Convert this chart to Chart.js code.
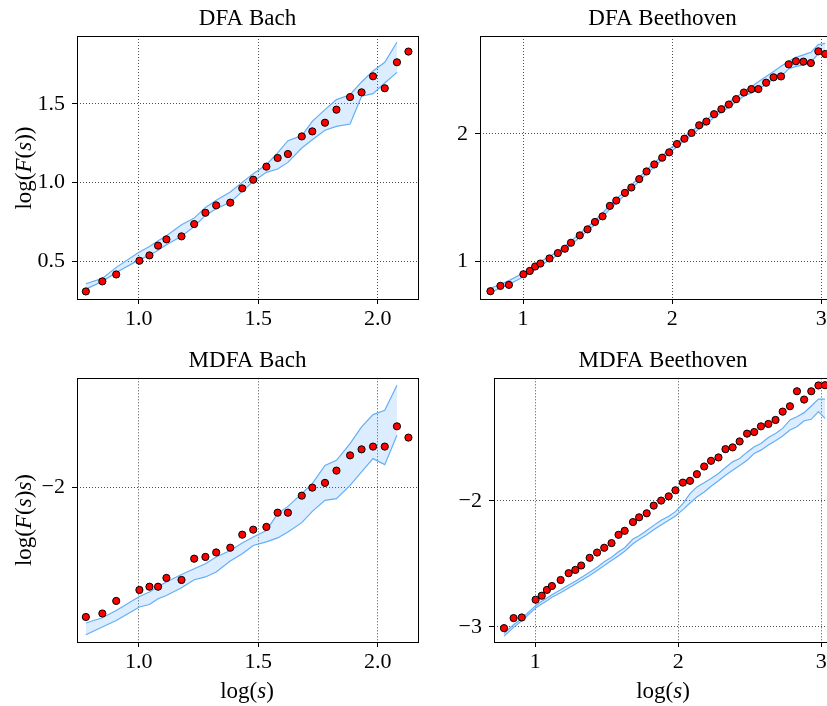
<!DOCTYPE html>
<html>
<head>
<meta charset="utf-8">
<script src="https://cdn.jsdelivr.net/npm/chart.js@4.4.1/dist/chart.umd.min.js"></script>
<style>
html,body{margin:0;padding:0;background:#fff;}
body{width:827px;height:706px;overflow:hidden;position:relative;font-family:"Liberation Serif",serif;}
canvas{position:absolute;}
.lab{position:absolute;font-size:23px;white-space:nowrap;color:#000;transform:translate(-50%,-50%);line-height:1;}
.rot{transform:translate(-50%,-50%) rotate(-90deg);}
</style>
</head>
<body>
<canvas id="c1" width="440" height="340" style="left:0;top:0"></canvas>
<canvas id="c2" width="440" height="340" style="left:420px;top:0"></canvas>
<canvas id="c3" width="440" height="361" style="left:0;top:345px"></canvas>
<canvas id="c4" width="440" height="361" style="left:420px;top:345px"></canvas>
<div class="lab rot" style="left:23px;top:168px">log(<i>F</i>(<i>s</i>))</div>
<div class="lab rot" style="left:23px;top:520px">log(<i>F</i>(<i>s</i>)<i>s</i>)</div>
<div class="lab" style="left:247px;top:690px">log(<i>s</i>)</div>
<div class="lab" style="left:663px;top:690px">log(<i>s</i>)</div>
<script>
// log(s) 取值
const bachX = [0.779,0.848,0.906,1.003,1.045,1.081,1.116,1.179,1.232,1.279,1.324,1.383,1.433,1.479,1.534,1.581,1.624,1.682,1.726,1.779,1.827,1.884,1.932,1.980,2.029,2.080,2.128];
const beethovenX = [0.781,0.848,0.905,1.002,1.045,1.081,1.116,1.177,1.233,1.280,1.321,1.380,1.432,1.482,1.533,1.582,1.625,1.683,1.726,1.779,1.828,1.880,1.933,1.980,2.032,2.082,2.130,2.181,2.229,2.281,2.330,2.380,2.429,2.481,2.531,2.578,2.630,2.680,2.730,2.781,2.830,2.880,2.930,2.980,3.026];

// DFA Bach
const dfaBach = [0.309,0.373,0.417,0.504,0.538,0.600,0.640,0.659,0.737,0.809,0.856,0.873,0.964,1.019,1.102,1.157,1.182,1.294,1.326,1.381,1.464,1.544,1.574,1.676,1.600,1.765,1.833];
const dfaBachHi = [0.358,0.392,0.462,0.559,0.595,0.631,0.663,0.733,0.775,0.843,0.888,0.941,1.002,1.057,1.114,1.189,1.267,1.299,1.390,1.464,1.528,1.559,1.640,1.710,1.765,1.892];
const dfaBachLo = [0.324,0.373,0.430,0.511,0.538,0.570,0.606,0.659,0.722,0.792,0.835,0.875,0.945,1.008,1.066,1.087,1.129,1.220,1.273,1.333,1.358,1.373,1.549,1.566,1.633,1.701];

// DFA Beethoven
const dfaBeethoven = [0.767,0.809,0.817,0.900,0.926,0.961,0.984,1.024,1.066,1.100,1.147,1.205,1.252,1.310,1.354,1.436,1.478,1.538,1.580,1.646,1.706,1.761,1.814,1.856,1.921,1.963,2.008,2.068,2.097,2.155,2.194,2.231,2.273,2.325,2.352,2.352,2.402,2.444,2.451,2.546,2.570,2.567,2.556,2.648,2.627];
const dfaBeethovenHi = [0.79,0.82,0.85,0.91,0.94,0.97,1.00,1.04,1.08,1.12,1.16,1.22,1.27,1.32,1.38,1.44,1.49,1.55,1.60,1.66,1.72,1.77,1.83,1.88,1.93,1.98,2.02,2.07,2.11,2.16,2.20,2.25,2.29,2.33,2.37,2.41,2.45,2.49,2.53,2.57,2.60,2.62,2.64,2.70,2.71];
const dfaBeethovenLo = [0.76,0.79,0.82,0.88,0.91,0.94,0.97,1.01,1.05,1.09,1.13,1.19,1.24,1.29,1.35,1.41,1.46,1.52,1.57,1.63,1.69,1.74,1.80,1.85,1.90,1.95,1.99,2.04,2.08,2.13,2.17,2.21,2.25,2.30,2.32,2.35,2.39,2.43,2.45,2.51,2.53,2.54,2.56,2.63,2.64];

// MDFA Bach
const mdfaBach = [-2.517,-2.503,-2.453,-2.409,-2.396,-2.396,-2.361,-2.369,-2.284,-2.277,-2.259,-2.240,-2.188,-2.168,-2.157,-2.100,-2.100,-2.032,-2.000,-1.981,-1.932,-1.871,-1.847,-1.836,-1.836,-1.755,-1.800];
const mdfaBachHi = [-2.541,-2.520,-2.491,-2.435,-2.417,-2.395,-2.377,-2.347,-2.324,-2.304,-2.277,-2.251,-2.221,-2.197,-2.171,-2.104,-2.075,-2.024,-1.984,-1.911,-1.891,-1.824,-1.757,-1.708,-1.691,-1.591];
const mdfaBachLo = [-2.588,-2.557,-2.531,-2.477,-2.467,-2.444,-2.431,-2.400,-2.368,-2.357,-2.337,-2.293,-2.264,-2.231,-2.217,-2.201,-2.177,-2.140,-2.095,-2.051,-2.044,-1.991,-1.937,-1.884,-1.908,-1.791];

// MDFA Beethoven
const mdfaBeethoven = [-3.011,-2.931,-2.926,-2.785,-2.753,-2.707,-2.676,-2.628,-2.574,-2.548,-2.513,-2.452,-2.410,-2.372,-2.335,-2.269,-2.237,-2.168,-2.130,-2.098,-2.037,-1.997,-1.963,-1.915,-1.854,-1.840,-1.787,-1.726,-1.681,-1.654,-1.588,-1.574,-1.527,-1.465,-1.452,-1.407,-1.388,-1.356,-1.290,-1.247,-1.128,-1.194,-1.128,-1.082,-1.080];
const mdfaBeethovenHi = [-3.053,-2.984,-2.934,-2.832,-2.798,-2.771,-2.745,-2.705,-2.668,-2.638,-2.609,-2.566,-2.527,-2.484,-2.447,-2.404,-2.372,-2.303,-2.277,-2.234,-2.194,-2.154,-2.122,-2.085,-2.021,-1.941,-1.888,-1.856,-1.822,-1.782,-1.734,-1.689,-1.662,-1.612,-1.569,-1.543,-1.495,-1.463,-1.423,-1.356,-1.330,-1.298,-1.245,-1.191,-1.191];
const mdfaBeethovenLo = [-3.074,-3.005,-2.952,-2.851,-2.819,-2.793,-2.766,-2.729,-2.691,-2.660,-2.633,-2.593,-2.553,-2.513,-2.473,-2.436,-2.399,-2.340,-2.306,-2.269,-2.229,-2.191,-2.154,-2.120,-2.069,-2.016,-1.968,-1.928,-1.883,-1.840,-1.795,-1.755,-1.718,-1.676,-1.622,-1.596,-1.556,-1.521,-1.484,-1.436,-1.410,-1.362,-1.351,-1.290,-1.343];

// 刻度
const bachXTicks = [1.0, 1.5, 2.0];
const beethovenXTicks = [1, 2, 3];
const dfaBachYTicks = [0.5, 1.0, 1.5];
const dfaBeethovenYTicks = [1, 2];
const mdfaBachYTicks = [-2];
const mdfaBeethovenYTicks = [-3, -2];

const FONT = '"Liberation Serif", "Times New Roman", serif';
const LINE = '#64aef6';
const FILL = 'rgba(30,144,255,0.16)';

const fmt = d => v => (v < 0 ? '\u2212' : '') + Math.abs(v).toFixed(d);
const pts = (xs, ys) => ys.map((y, i) => ({x: xs[i], y}));

const frame = {
  id: 'frame',
  afterDraw(chart) {
    const {ctx, chartArea: a} = chart;
    ctx.save();
    ctx.strokeStyle = '#000';
    ctx.lineWidth = 1;
    ctx.strokeRect(Math.round(a.left) + 0.5, Math.round(a.top) + 0.5, Math.round(a.right - a.left), Math.round(a.bottom - a.top));
    ctx.restore();
  }
};

function axis(ticks, format, min, max, size, isX) {
  return {
    type: 'linear', min, max,
    afterBuildTicks: s => { s.ticks = ticks.map(v => ({value: v})); },
    afterFit: s => { if (isX) s.height = size; else s.width = size; },
    ticks: { callback: format, color: '#000', font: {family: FONT, size: 22}, padding: isX ? 2 : 7, maxRotation: 0, autoSkip: false },
    grid: { color: '#222', lineWidth: 0.8, tickLength: 5, tickColor: '#000', tickWidth: 1 },
    border: { display: false, dash: [1, 2] }
  };
}

function panel(id, p) {
  return new Chart(document.getElementById(id), {
    type: 'scatter',
    data: {
      datasets: [
        { data: pts(p.xs, p.ys), pointRadius: 3.6, pointBackgroundColor: '#ff0000', pointBorderColor: '#000', pointBorderWidth: 1 },
        { data: pts(p.xs, p.hi), showLine: true, pointRadius: 0, borderColor: LINE, borderWidth: 1.2, fill: false },
        { data: pts(p.xs, p.lo), showLine: true, pointRadius: 0, borderColor: LINE, borderWidth: 1.2, fill: '-1', backgroundColor: FILL }
      ]
    },
    options: {
      animation: false, responsive: false, devicePixelRatio: 1, events: [],
      layout: { padding: { left: 0, right: p.padRight, top: 0, bottom: 0 } },
      plugins: {
        legend: { display: false },
        tooltip: { enabled: false },
        title: { display: true, text: p.title, fullSize: false, color: '#000', font: {family: FONT, size: 23, weight: 'normal'}, padding: {top: p.titleTop, bottom: 3.2} }
      },
      scales: {
        x: axis(p.xTicks, p.xFmt, p.xMin, p.xMax, p.xH, true),
        y: axis(p.yTicks, p.yFmt, p.yMin, p.yMax, p.yW, false)
      }
    },
    plugins: [frame]
  });
}

panel('c1', { title: 'DFA Bach', xs: bachX, ys: dfaBach, hi: dfaBachHi, lo: dfaBachLo,
  xTicks: bachXTicks, xFmt: fmt(1), xMin: 0.742, xMax: 2.168,
  yTicks: dfaBachYTicks, yFmt: fmt(1), yMin: 0.261, yMax: 1.932,
  yW: 77, xH: 41, padRight: 22, titleTop: 5.2 });

panel('c2', { title: 'DFA Beethoven', xs: beethovenX, ys: dfaBeethoven, hi: dfaBeethovenHi, lo: dfaBeethovenLo,
  xTicks: beethovenXTicks, xFmt: fmt(0), xMin: 0.711, xMax: 3.159,
  yTicks: dfaBeethovenYTicks, yFmt: fmt(0), yMin: 0.706, yMax: 2.768,
  yW: 60, xH: 41, padRight: 15, titleTop: 5.2 });

panel('c3', { title: 'MDFA Bach', xs: bachX, ys: mdfaBach, hi: mdfaBachHi, lo: mdfaBachLo,
  xTicks: bachXTicks, xFmt: fmt(1), xMin: 0.742, xMax: 2.168,
  yTicks: mdfaBachYTicks, yFmt: fmt(0), yMin: -2.617, yMax: -1.563,
  yW: 77, xH: 64, padRight: 22, titleTop: 2.5 });

panel('c4', { title: 'MDFA Beethoven', xs: beethovenX, ys: mdfaBeethoven, hi: mdfaBeethovenHi, lo: mdfaBeethovenLo,
  xTicks: beethovenXTicks, xFmt: fmt(0), xMin: 0.711, xMax: 3.075,
  yTicks: mdfaBeethovenYTicks, yFmt: fmt(0), yMin: -3.121, yMax: -1.025,
  yW: 74, xH: 64, padRight: 28, titleTop: 2.5 });
</script>
</body>
</html>
